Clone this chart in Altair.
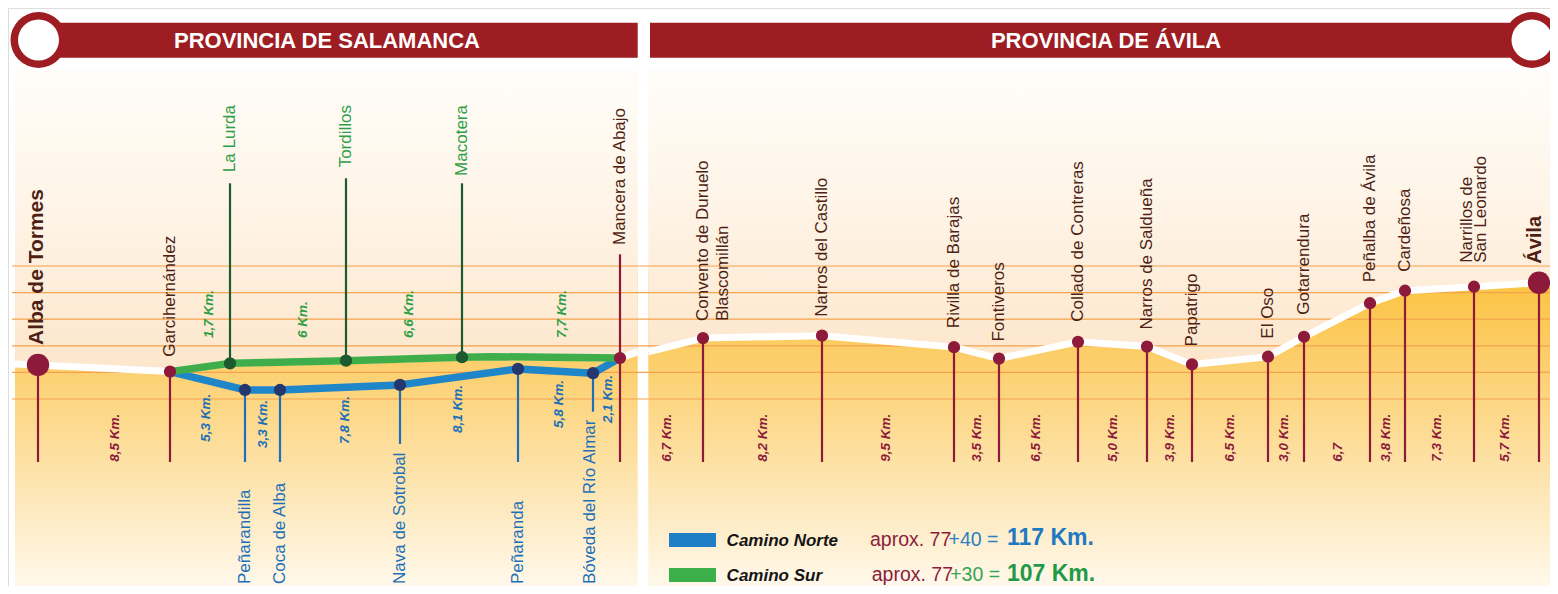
import altair as alt
import pandas as pd

# ---------------- values ----------------
# schematic position along the route (drawing units) and altitude (m)
common_towns = ["Alba de Tormes", "Garcihernández", "Mancera de Abajo"]
common_pos = [38, 170, 620]
common_elev = [828, 803, 854]

sur_towns = ["La Lurda", "Tordillos", "Macotera"]
sur_pos = [230, 346, 462]
sur_elev = [834, 844, 857]

norte_towns = ["Peñarandilla", "Coca de Alba", "Nava de Sotrobal", "Peñaranda", "Bóveda del Río Almar"]
norte_pos = [245, 280, 400, 518, 593]
norte_elev = [734, 734, 753, 813, 797]

avila_towns = [["Convento de Duruelo", "Blascomillán"], ["Narros del Castillo"], ["Rivilla de Barajas"],
               ["Fontiveros"], ["Collado de Contreras"], ["Narros de Saldueña"], ["Papatrigo"], ["El Oso"],
               ["Gotarrendura"], ["Peñalba de Ávila"], ["Cardeñosa"], ["Narrillos de", "San Leonardo"], ["Ávila"]]
avila_pos = [703, 822, 954, 999, 1078, 1147, 1192, 1268, 1304, 1370, 1405, 1474, 1539]
avila_elev = [929, 938, 895, 852, 915, 897, 830, 859, 934, 1060, 1107, 1122, 1137]

# profile vertices without a town: bend of the Camino Sur, panel edges
sur_bend_pos, sur_bend_elev = [492], [859]
sal_edge_pos, sal_edge_elev = [15, 637.7], [832, 877]
avi_edge_pos, avi_edge_elev = [648.3, 1554, 1562], [877, 1137, 1137]

km_common = ["8,5 Km."]
km_norte = ["5,3 Km.", "3,3 Km.", "7,8 Km.", "8,1 Km.", "5,8 Km.", "2,1 Km."]
km_sur = ["1,7 Km.", "6 Km.", "6,6 Km.", "7,7 Km."]
km_avila = ["6,7 Km.", "8,2 Km.", "9,5 Km.", "3,5 Km.", "6,5 Km.", "5,0 Km.", "3,9 Km.", "6,5 Km.",
            "3,0 Km.", "6,7", "3,8 Km.", "7,3 Km.", "5,7 Km."]

grid_elev = [700, 800, 900, 1000, 1100, 1200]
titles = ["PROVINCIA DE SALAMANCA", "PROVINCIA DE ÁVILA"]
legend_names = ["Camino Norte", "Camino Sur"]
legend_sum_a = ["aprox. 77", "aprox. 77"]
legend_sum_b = ["+40 =", "+30 ="]
legend_total = ["117 Km.", "107 Km."]

# ---------------- layout ----------------
W, H, M = 1542, 578, 8
PXM = 0.266  # pixels per metre


def E(py):
    """picture row -> altitude units of the y scale"""
    return 700 + (399 - py) / PXM


XS = alt.Scale(domain=[M, M + W], nice=False, zero=False)
YS = alt.Scale(domain=[E(M + H), E(M)], nice=False, zero=False)


def X(f="x"):
    return alt.X(f + ":Q", scale=XS, axis=None)


def Y(f="y"):
    return alt.Y(f + ":Q", scale=YS, axis=None)


FONT = "Liberation Sans"
MAROON = "#8e1a3b"
HEAD_RED = "#9e1d22"
BROWN = "#4e1f14"
GREEN_LINE = "#3fae4a"
GREEN_TXT = "#2f9f47"
GREEN_DARK = "#1c5a2f"
BLUE_LINE = "#1f86c9"
BLUE_TXT = "#1d70b7"
NAVY = "#24386d"
GRID = "#f5a24c"
KM_RED = "#8c1b3c"

gold = alt.Gradient(gradient="linear", x1=0, x2=0, y1=0, y2=1, stops=[
    alt.GradientStop(color="#fbc23c", offset=0),
    alt.GradientStop(color="#fcd070", offset=0.3),
    alt.GradientStop(color="#fde2a8", offset=0.6),
    alt.GradientStop(color="#fef1d6", offset=0.85),
    alt.GradientStop(color="#fffbf3", offset=1)])
sky = alt.Gradient(gradient="linear", x1=0, x2=0, y1=0, y2=1, stops=[
    alt.GradientStop(color="#fffdf9", offset=0),
    alt.GradientStop(color="#fef3e5", offset=0.5),
    alt.GradientStop(color="#fde6cb", offset=1)])

layers = []

# panels (gold ground), sky above profile
panels = pd.DataFrame({"x": [15, 648.3], "x2": [637.7, 1554], "y": [E(270)] * 2, "y2": [E(600)] * 2})
layers.append(alt.Chart(panels).mark_rect(color=gold).encode(x=X(), x2="x2:Q", y=Y(), y2="y2:Q"))

sal_prof = list(zip(sal_edge_pos[:1] + common_pos[:2] + sur_pos + sur_bend_pos + common_pos[2:] + sal_edge_pos[1:],
                    sal_edge_elev[:1] + common_elev[:2] + sur_elev + sur_bend_elev + common_elev[2:] + sal_edge_elev[1:]))
avi_prof = list(zip(avi_edge_pos[:1] + avila_pos + avi_edge_pos[1:2], avi_edge_elev[:1] + avila_elev + avi_edge_elev[1:2]))
prof = pd.DataFrame([{"seg": "S", "x": a, "y": b} for a, b in sal_prof] +
                    [{"seg": "A", "x": a, "y": b} for a, b in avi_prof])
prof["top"] = E(70)
layers.append(alt.Chart(prof).mark_area(color=sky, orient="vertical").encode(
    x=X(), y=Y("top"), y2="y:Q", detail="seg:N"))

# grid
grid = pd.DataFrame({"x": [12] * 6, "x2": [1560] * 6, "y": grid_elev})
layers.append(alt.Chart(grid).mark_rule(color=GRID, strokeWidth=1.2).encode(x=X(), x2="x2:Q", y=Y()))

# white profile line
white = pd.concat([prof, pd.DataFrame({"seg": ["A"], "x": [avi_edge_pos[2]], "y": [avi_edge_elev[2]]})])
layers.append(alt.Chart(white).mark_line(color="white", strokeWidth=7, strokeJoin="round").encode(
    x=X(), y=Y(), detail="seg:N", order="x:Q"))

# stems
stems_m = pd.DataFrame({"x": common_pos + avila_pos,
                        "y": [common_elev[0], common_elev[1], E(254.3)] + avila_elev,
                        "y2": [E(462)] * (3 + len(avila_pos))})
layers.append(alt.Chart(stems_m).mark_rule(color=MAROON, strokeWidth=2.2).encode(x=X(), y=Y(), y2="y2:Q"))
stems_n = pd.DataFrame({"x": norte_pos, "y": norte_elev, "y2": [E(v) for v in [462, 462, 444, 462, 411.7]]})
layers.append(alt.Chart(stems_n).mark_rule(color=BLUE_TXT, strokeWidth=2.2).encode(x=X(), y=Y(), y2="y2:Q"))
stems_s = pd.DataFrame({"x": sur_pos, "y": sur_elev, "y2": [E(v) for v in [183.3, 178.3, 183.3]]})
layers.append(alt.Chart(stems_s).mark_rule(color=GREEN_DARK, strokeWidth=2.2).encode(x=X(), y=Y(), y2="y2:Q"))

# routes
sur_line = pd.DataFrame({"x": [common_pos[1]] + sur_pos + sur_bend_pos + [common_pos[2]],
                         "y": [common_elev[1]] + sur_elev + sur_bend_elev + [common_elev[2]]})
norte_line = pd.DataFrame({"x": [common_pos[1]] + norte_pos + [common_pos[2]],
                           "y": [common_elev[1]] + norte_elev + [common_elev[2]]})
layers.append(alt.Chart(norte_line).mark_line(color=BLUE_LINE, strokeWidth=7.5, strokeJoin="round").encode(
    x=X(), y=Y(), order="x:Q"))
layers.append(alt.Chart(sur_line).mark_line(color=GREEN_LINE, strokeWidth=7.5, strokeJoin="round").encode(
    x=X(), y=Y(), order="x:Q"))

# dots
def dots(xs, ys, color, size):
    return alt.Chart(pd.DataFrame({"x": xs, "y": ys})).mark_circle(
        color=color, size=size, opacity=1).encode(x=X(), y=Y())

layers.append(dots(common_pos[1:] + avila_pos[:-1], common_elev[1:] + avila_elev[:-1], MAROON, 150))
layers.append(dots([common_pos[0], avila_pos[-1]], [common_elev[0], avila_elev[-1]], MAROON, 500))
layers.append(dots(norte_pos, norte_elev, NAVY, 150))
layers.append(dots(sur_pos, sur_elev, GREEN_DARK, 150))


def texts(df, **kw):
    props = dict(font=FONT, baseline="middle")
    props.update(kw)
    return alt.Chart(df).mark_text(**props).encode(x=X(), y=Y(), text="t:N")


# town labels
layers.append(texts(pd.DataFrame({"x": [36.7], "y": [E(345)], "t": [common_towns[0]]}),
                    angle=270, align="left", fontSize=21, fontWeight="bold", color=BROWN))
layers.append(texts(pd.DataFrame({"x": [170, 620], "y": [E(356.7), E(245)], "t": common_towns[1:]}),
                    angle=270, align="left", fontSize=17, color=BROWN))
layers.append(texts(pd.DataFrame({"x": sur_pos, "y": [E(105)] * 3, "t": sur_towns}),
                    angle=270, align="right", fontSize=17, color=GREEN_TXT))
layers.append(texts(pd.DataFrame({"x": norte_pos[:-1] + [norte_pos[-1] - 3], "y": [E(584)] * 5, "t": norte_towns}),
                    angle=270, align="left", fontSize=17, color=BLUE_TXT))

gaps = [17, 19, 19, 17, 20, 17, 18, 18, 22, 21, 19, 24, 19]
line_off = {0: [0, 19.5], 11: [-6.7, 7.3], 12: [-4]}
rows = []
for i, (names, p, e) in enumerate(zip(avila_towns, avila_pos, avila_elev)):
    offs = line_off.get(i, [0])
    for name, o in zip(names, offs):
        rows.append({"x": p + o, "y": e + gaps[i] / PXM, "t": name, "big": i == 12})
avl = pd.DataFrame(rows)
layers.append(texts(avl[~avl.big], angle=270, align="left", fontSize=17, color=BROWN))
layers.append(texts(avl[avl.big], angle=270, align="left", fontSize=20, fontWeight="bold", color=BROWN))

# km labels
km_kw = dict(angle=270, align="left", fontSize=13.5, fontWeight="bold", fontStyle="italic")
layers.append(texts(pd.DataFrame({"x": [114.5], "y": [E(461.7)], "t": km_common}), color=KM_RED, **km_kw))
layers.append(texts(pd.DataFrame({"x": [205.6, 263, 345, 457.5, 559, 608],
                                  "y": [E(v) for v in [441.7, 448, 444, 433, 428, 423]], "t": km_norte}),
                    color=BLUE_TXT, **km_kw))
layers.append(texts(pd.DataFrame({"x": [208.7, 303, 409, 562], "y": [E(338)] * 4, "t": km_sur}),
                    color=GREEN_TXT, **km_kw))
layers.append(texts(pd.DataFrame({"x": [667, 763, 886, 977, 1036, 1113, 1170, 1230, 1284, 1338, 1386, 1437, 1505],
                                  "y": [E(461.7)] * 13, "t": km_avila}), color=KM_RED, **km_kw))

# header
bars = pd.DataFrame({"x": [40, 650], "x2": [637.7, 1515], "y": [E(22.7)] * 2, "y2": [E(57.7)] * 2})
layers.append(alt.Chart(bars).mark_rect(color=HEAD_RED).encode(x=X(), x2="x2:Q", y=Y(), y2="y2:Q"))
layers.append(dots([38.5, 1532], [E(40)] * 2, HEAD_RED, 3136))
layers.append(dots([38.5, 1532], [E(40)] * 2, "white", 1681))
layers.append(texts(pd.DataFrame({"x": [327, 1106], "y": [E(40.5)] * 2, "t": titles}),
                    align="center", fontSize=22, fontWeight="bold", color="white"))

# legend
sw = pd.DataFrame({"x": [669, 669], "x2": [716, 716], "y": [E(533), E(568)], "y2": [E(547), E(582)],
                   "c": legend_names})
layers.append(alt.Chart(sw).mark_rect().encode(
    x=X(), x2="x2:Q", y=Y(), y2="y2:Q",
    color=alt.Color("c:N", scale=alt.Scale(domain=legend_names, range=["#1e7fc6", "#3cae4a"]), legend=None)))
base_y = [E(545.5), E(580.5)]
layers.append(texts(pd.DataFrame({"x": [726.6] * 2, "y": base_y, "t": legend_names}),
                    align="left", baseline="alphabetic", fontSize=17, fontWeight="bold", fontStyle="italic",
                    color="#151515"))
layers.append(texts(pd.DataFrame({"x": [870, 871.7], "y": base_y, "t": legend_sum_a}),
                    align="left", baseline="alphabetic", fontSize=19.5, color="#8c1d3d"))
layers.append(texts(pd.DataFrame({"x": [948.5], "y": base_y[:1], "t": legend_sum_b[:1]}),
                    align="left", baseline="alphabetic", fontSize=19.5, color="#2b80c4"))
layers.append(texts(pd.DataFrame({"x": [950.2], "y": base_y[1:], "t": legend_sum_b[1:]}),
                    align="left", baseline="alphabetic", fontSize=19.5, color="#37a552"))
layers.append(texts(pd.DataFrame({"x": [1007], "y": [E(544.5)], "t": legend_total[:1]}),
                    align="left", baseline="alphabetic", fontSize=23, fontWeight="bold", color="#1f79c2"))
layers.append(texts(pd.DataFrame({"x": [1007], "y": [E(580.5)], "t": legend_total[1:]}),
                    align="left", baseline="alphabetic", fontSize=23, fontWeight="bold", color="#1e9a48"))

chart = alt.layer(*layers).properties(
    width=W, height=H, padding=0, autosize=alt.AutoSizeParams(type="none")
).configure_view(strokeWidth=0).configure(background="white")

chart.save("out.html", embed_options={"renderer": "svg", "actions": False})
